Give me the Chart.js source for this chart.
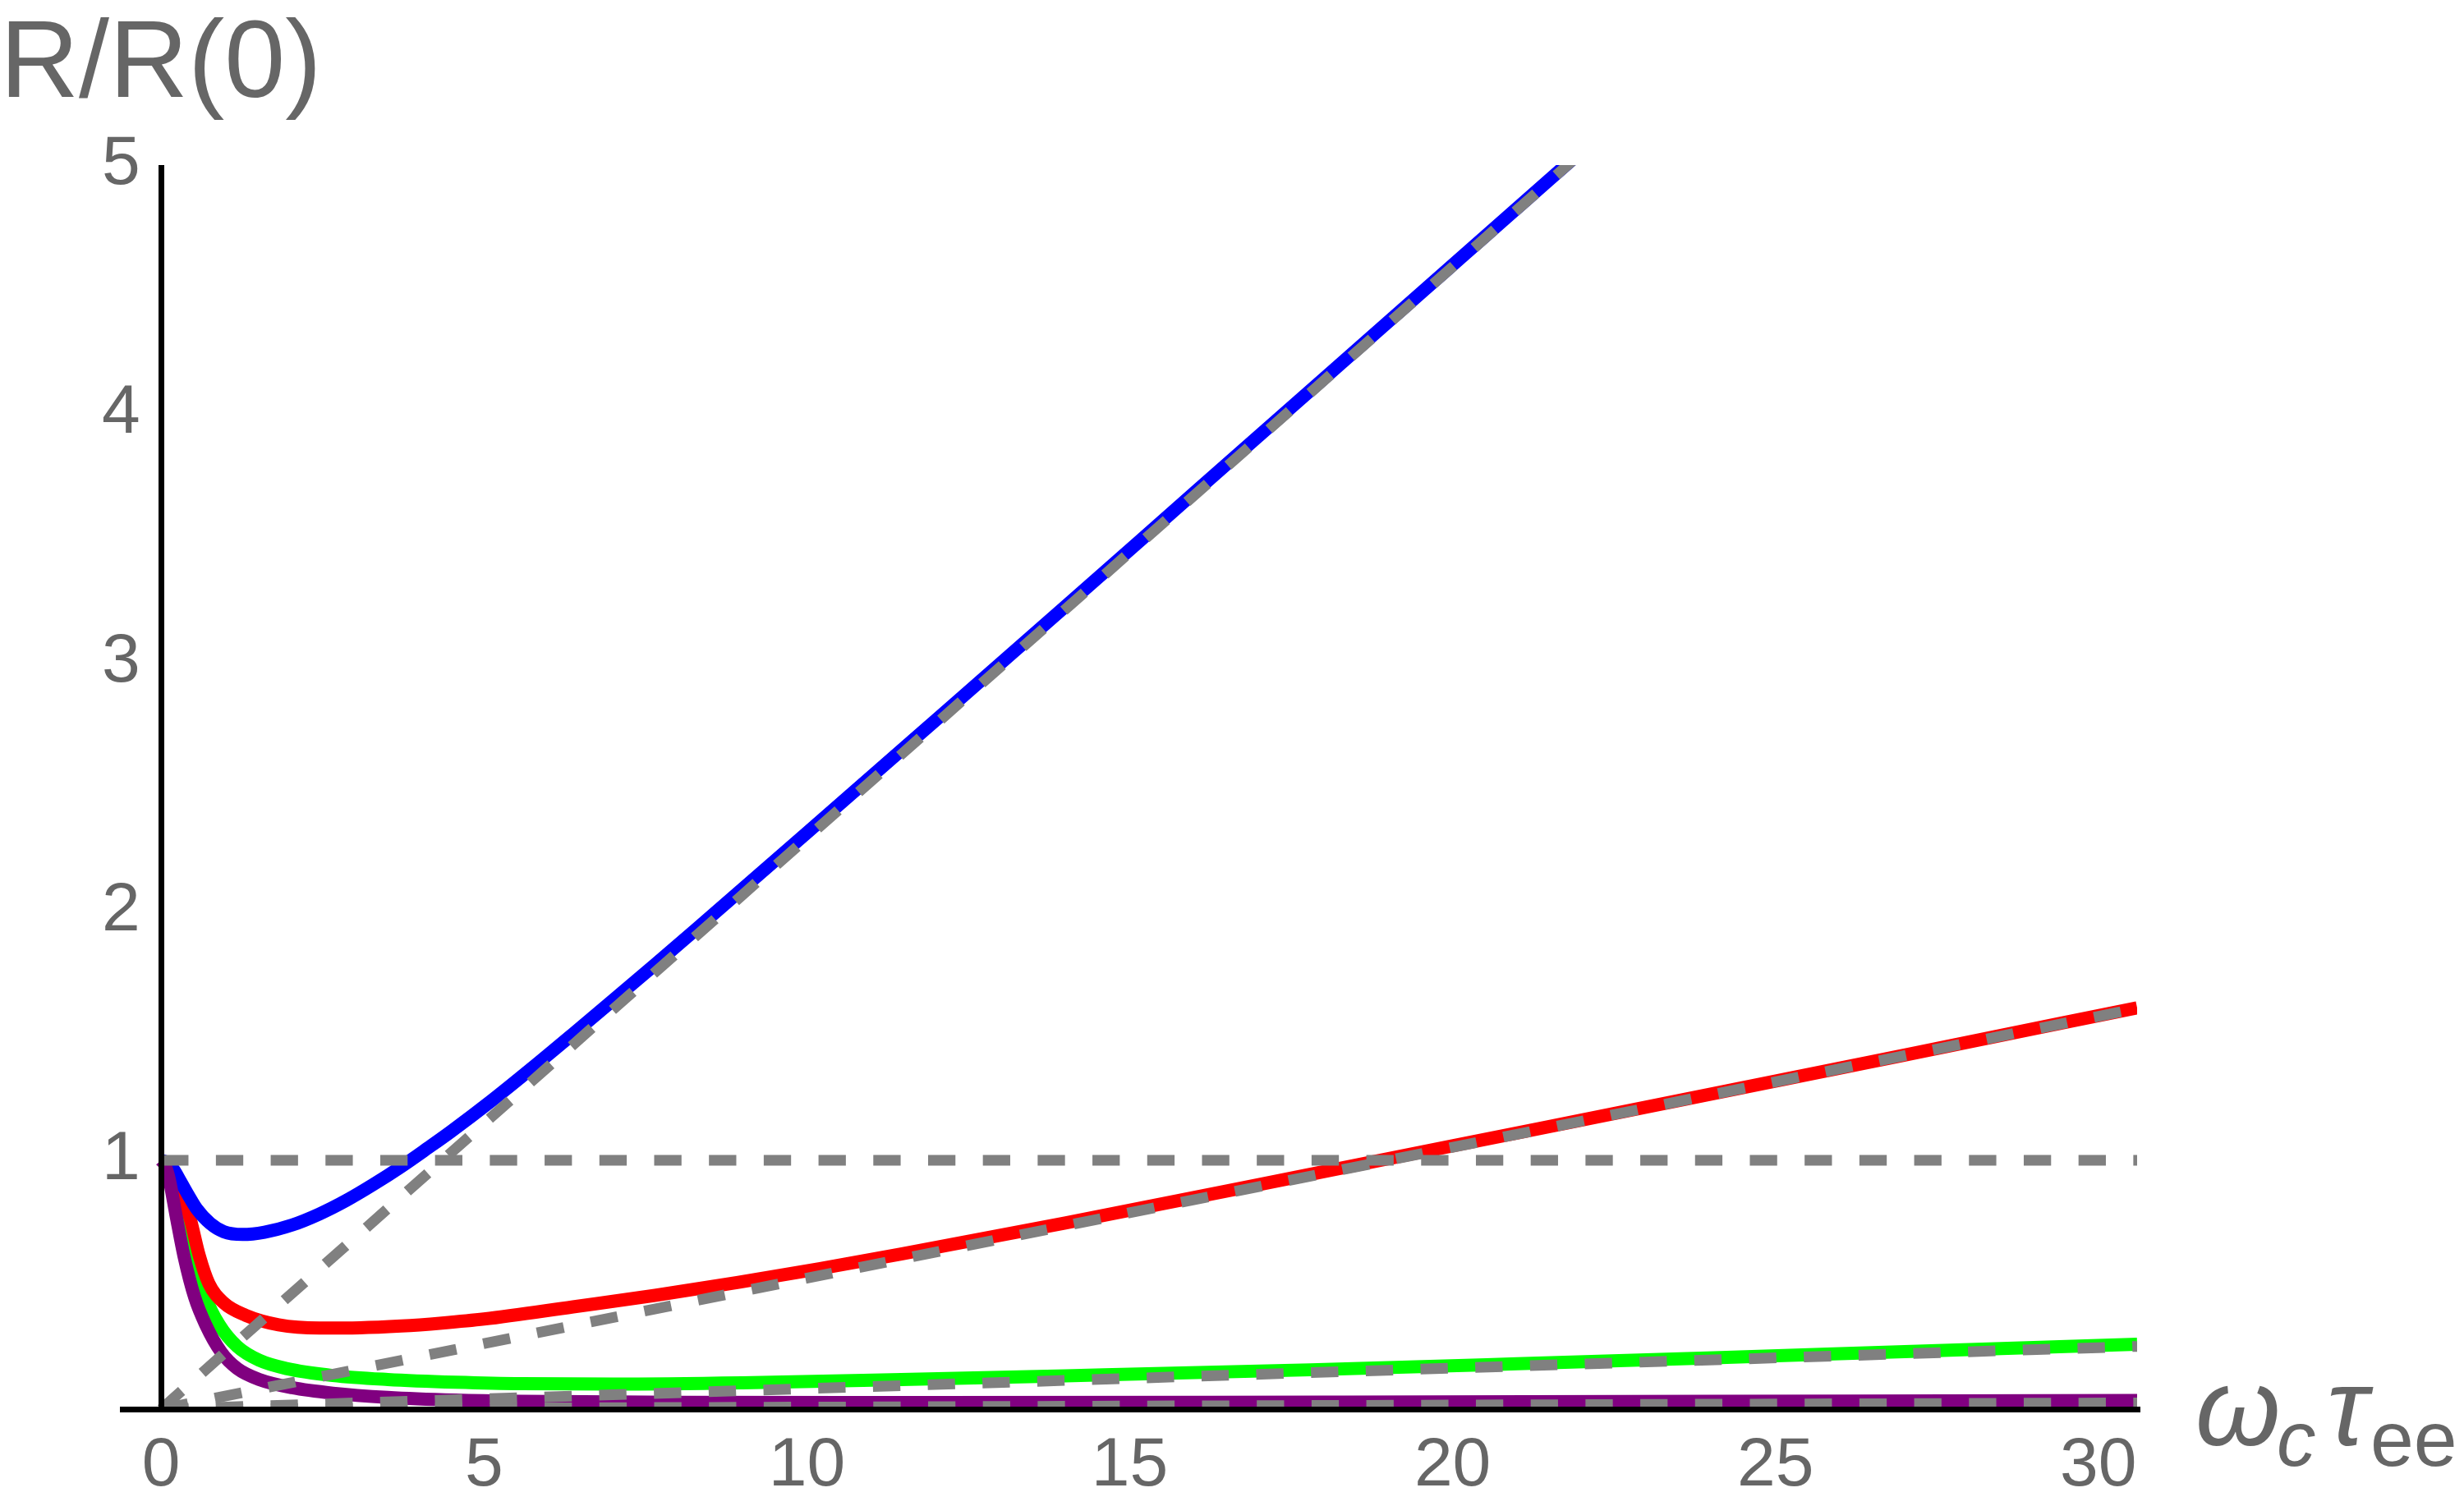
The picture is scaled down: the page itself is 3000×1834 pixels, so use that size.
<!DOCTYPE html>
<html>
<head>
<meta charset="utf-8">
<script src="https://cdn.jsdelivr.net/npm/chart.js@4.4.0/dist/chart.umd.min.js"></script>
<style>
  html, body { margin: 0; padding: 0; background: #fff; }
  canvas { display: block; }
</style>
</head>
<body>
<canvas id="myChart" width="3000" height="1834"></canvas>
<script>
// tick labels
const xTicks = [0, 5, 10, 15, 20, 25, 30];
const yTicks = [1, 2, 3, 4, 5];

// curves
const blueX = [0, 0.1, 0.2, 0.3, 0.42, 0.55, 0.76, 0.97, 1.26, 1.6, 2.03, 2.45, 2.87, 3.3, 3.72, 4.14, 4.48, 5.11, 5.75, 6.38, 7.02, 7.65, 8.29, 10, 12, 14, 16, 18, 20, 22];
const blueY = [1, 0.99, 0.96, 0.915, 0.86, 0.805, 0.746, 0.713, 0.702, 0.711, 0.74, 0.784, 0.839, 0.905, 0.975, 1.051, 1.114, 1.238, 1.372, 1.508, 1.648, 1.787, 1.93, 2.316, 2.77, 3.225, 3.683, 4.14, 4.598, 5.056];

const redX = [0, 0.1, 0.2, 0.3, 0.44, 0.59, 0.74, 0.97, 1.31, 1.82, 2.45, 3.08, 3.72, 4.35, 5.0, 6.38, 7.65, 8.92, 10.19, 11.46, 14, 17, 20, 24, 27, 30.6];
const redY = [1, 0.985, 0.94, 0.875, 0.775, 0.617, 0.504, 0.427, 0.377, 0.339, 0.326, 0.327, 0.334, 0.346, 0.362, 0.411, 0.457, 0.509, 0.564, 0.623, 0.748, 0.902, 1.058, 1.266, 1.423, 1.613];

const greenX = [0, 0.1, 0.2, 0.3, 0.37, 0.5, 0.69, 0.9, 1.18, 1.52, 1.94, 2.66, 3.51, 4.56, 5.58, 7, 9, 11.46, 14, 17.8, 21, 24.15, 27, 30.6];
const greenY = [1, 0.985, 0.935, 0.855, 0.78, 0.614, 0.449, 0.339, 0.251, 0.196, 0.163, 0.135, 0.119, 0.108, 0.102, 0.101, 0.106, 0.119, 0.134, 0.158, 0.182, 0.207, 0.231, 0.261];

const purpleX = [0, 0.05, 0.12, 0.23, 0.355, 0.52, 0.69, 0.93, 1.18, 1.52, 2.03, 2.66, 3.51, 4.56, 5.58, 8, 12, 18, 24, 30.6];
const purpleY = [1, 0.985, 0.93, 0.78, 0.614, 0.449, 0.339, 0.229, 0.163, 0.119, 0.086, 0.064, 0.047, 0.036, 0.031, 0.027, 0.026, 0.028, 0.031, 0.035];

// dashed reference lines
const unityX = [0, 30.6];
const unityY = [1, 1];
const blueAsymX = [0, 22];
const blueAsymY = [0, 5.05];
const redAsymX = [0, 30.6];
const redAsymY = [0, 1.61];
const greenAsymX = [0, 30.6];
const greenAsymY = [0, 0.252];
const purpleAsymX = [0, 30.6];
const purpleAsymY = [0, 0.025];

function toPoints(xs, ys) {
    return xs.map((x, i) => ({ x: x, y: ys[i] }));
}

const labelGray = '#666666';
const dashGray = '#808080';
const axisWidth = 7;

function curve(xs, ys, color, order) {
    return {
        data: toPoints(xs, ys),
        borderColor: color,
        borderWidth: 16,
        pointRadius: 0,
        cubicInterpolationMode: 'monotone',
        clip: 0,
        order: order
    };
}

function dashed(xs, ys) {
    return {
        data: toPoints(xs, ys),
        borderColor: dashGray,
        borderWidth: 13,
        borderDash: [33.3, 33.4],
        pointRadius: 0,
        tension: 0,
        clip: 0,
        order: 0
    };
}

// axis titles drawn as text next to the axes
const axisTitles = {
    id: 'axisTitles',
    afterDraw(chart) {
        const ctx = chart.ctx;
        const area = chart.chartArea;
        ctx.save();
        ctx.fillStyle = labelGray;
        ctx.textAlign = 'left';
        ctx.textBaseline = 'alphabetic';

        ctx.font = "133px 'Liberation Sans', Arial, sans-serif";
        ctx.fillText('R/R(0)', 0, area.top - 83);

        const x0 = area.right + 71;
        const base = area.bottom + 44;
        ctx.font = "italic 133px 'Liberation Sans', Arial, sans-serif";
        ctx.fillText('\u03C9', x0, base);
        ctx.font = "italic 95px 'Liberation Sans', Arial, sans-serif";
        ctx.fillText('c', x0 + 99, base + 25);
        ctx.font = "italic 133px 'Liberation Sans', Arial, sans-serif";
        ctx.fillText('\u03C4', x0 + 160, base);
        ctx.font = "95px 'Liberation Sans', Arial, sans-serif";
        ctx.fillText('ee', x0 + 213, base + 25);
        ctx.restore();
    }
};

const ctx = document.getElementById('myChart').getContext('2d');
new Chart(ctx, {
    type: 'line',
    data: {
        datasets: [
            dashed(unityX, unityY),
            dashed(blueAsymX, blueAsymY),
            dashed(redAsymX, redAsymY),
            dashed(greenAsymX, greenAsymY),
            dashed(purpleAsymX, purpleAsymY),
            curve(purpleX, purpleY, '#800080', 1),
            curve(blueX, blueY, '#0000ff', 2),
            curve(redX, redY, '#ff0000', 3),
            curve(greenX, greenY, '#00ff00', 4)
        ]
    },
    options: {
        responsive: false,
        devicePixelRatio: 1,
        animation: false,
        events: [],
        layout: {
            padding: { left: 149, right: 398, top: 201, bottom: 0 }
        },
        plugins: {
            legend: { display: false },
            tooltip: { enabled: false }
        },
        scales: {
            x: {
                type: 'linear',
                position: 'bottom',
                min: -0.6,
                max: 30.6,
                afterFit: (scale) => { scale.height = 118; },
                afterBuildTicks: (scale) => { scale.ticks = xTicks.map(v => ({ value: v })); },
                ticks: {
                    color: labelGray,
                    font: { family: "'Liberation Sans', Arial, sans-serif", size: 84 },
                    padding: 19,
                    maxRotation: 0,
                    autoSkip: false
                },
                grid: {
                    drawTicks: false,
                    z: 1,
                    // only the line at x = 0, which is the vertical axis
                    color: (c) => (c.tick && c.tick.value === 0) ? '#000000' : 'rgba(0,0,0,0)',
                    lineWidth: (c) => (c.tick && c.tick.value === 0) ? axisWidth : 0
                },
                border: { display: true, color: '#000000', width: axisWidth, z: 1 }
            },
            y: {
                type: 'linear',
                position: 'left',
                min: 0,
                max: 5,
                afterFit: (scale) => { scale.width = 0; },
                afterBuildTicks: (scale) => { scale.ticks = yTicks.map(v => ({ value: v })); },
                ticks: {
                    color: labelGray,
                    font: { family: "'Liberation Sans', Arial, sans-serif", size: 84 },
                    // mirrored labels are not clipped to the (empty) scale box
                    mirror: true,
                    crossAlign: 'near',
                    padding: -25,
                    autoSkip: false
                },
                grid: { display: false, drawTicks: false },
                border: { display: false }
            }
        }
    },
    plugins: [axisTitles]
});
</script>
</body>
</html>
